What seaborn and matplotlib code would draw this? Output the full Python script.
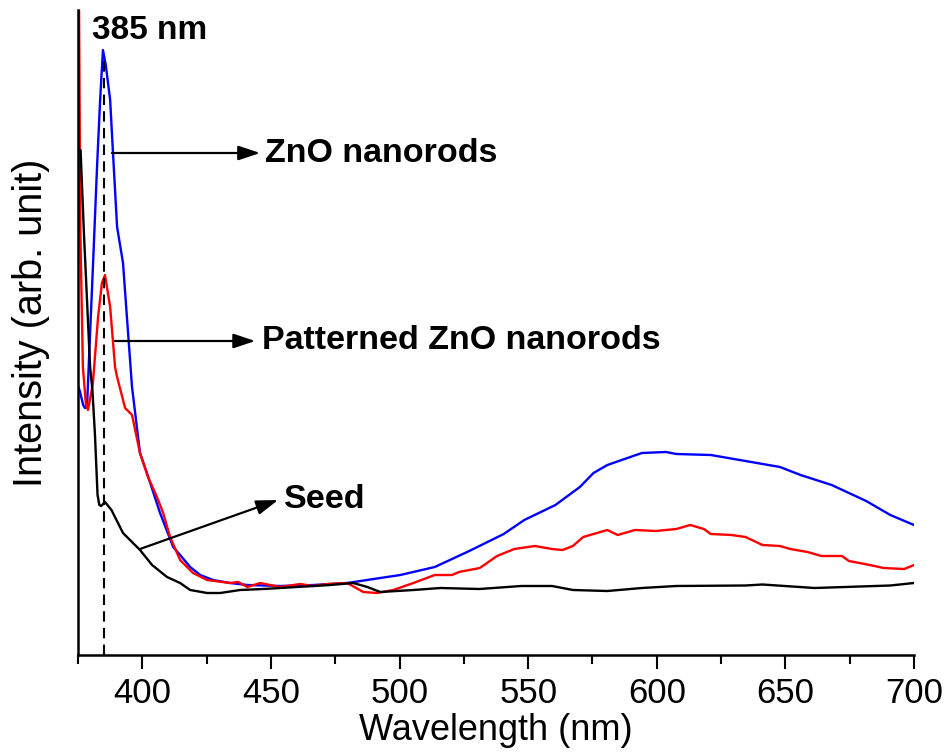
import numpy as np
import pandas as pd
import matplotlib
matplotlib.use('Agg')
import matplotlib.pyplot as plt
from matplotlib.ticker import MultipleLocator
import seaborn as sns

# ZnO nanorods (blue)
blue_nm = [375.2, 375.8, 377.0, 377.7, 378.5, 379.7, 380.8, 382.4, 383.6, 384.7, 385.8, 387.5,
           388.6, 390.2, 392.5, 394.1, 396.0, 399.1, 401.8, 406.9, 412.0, 414.7, 418.6, 422.5,
           427.5, 434.1, 440.8, 453.6, 466.4, 479.7, 492.5, 500.3, 513.7, 527.1, 540.5, 548.5,
           560.6, 570.1, 575.4, 580.8, 594.2, 603.6, 607.6, 621.0, 634.5, 647.9, 655.9, 668.0,
           681.4, 690.8, 700.0]
blue_int = [268, 263, 250, 247, 248, 322, 388, 488, 555, 605, 590, 555,
            502, 428, 392, 335, 268, 202, 182, 142, 108, 100, 88, 80,
            75, 72, 70, 69, 70, 72, 77, 80, 88, 104, 121, 135,
            150, 168, 182, 190, 202, 203, 201, 200, 194, 188, 180, 170,
            154, 140, 130]

# Patterned ZnO nanorods (red)
red_nm = [375.4, 375.9, 376.9, 378.1, 378.9, 380.8, 382.8, 384.3, 385.5, 387.5, 389.4, 390.2,
          392.5, 393.3, 396.0, 399.1, 402.2, 405.7, 408.1, 410.8, 414.7, 419.7, 425.2, 434.1,
          437.3, 440.8, 445.8, 453.6, 461.4, 466.4, 471.9, 479.7, 485.9, 491.3, 497.6, 505.4,
          513.7, 520.4, 523.1, 531.2, 537.9, 544.6, 552.6, 559.3, 563.4, 567.4, 571.4, 580.8,
          584.8, 591.5, 599.6, 607.6, 613.0, 618.3, 621.0, 629.1, 634.5, 641.1, 647.9, 651.9,
          658.6, 664.0, 672.0, 674.7, 682.8, 688.2, 696.2, 700.0]
red_int = [650, 425, 288, 250, 245, 272, 338, 372, 380, 348, 288, 278,
           255, 247, 240, 202, 178, 158, 142, 118, 95, 82, 75, 72,
           73, 68, 72, 68, 71, 69, 71, 72, 63, 62, 65, 72,
           80, 80, 83, 87, 99, 106, 109, 106, 105, 109, 118, 125,
           120, 125, 124, 126, 130, 126, 121, 120, 118, 110, 109, 106,
           103, 99, 99, 94, 90, 87, 86, 90]

# Seed (black)
black_nm = [376.0, 377.3, 378.5, 379.7, 380.6, 381.6, 382.6, 383.3, 384.0, 385.5, 388.0,
            392.5, 399.1, 403.8, 409.6, 414.7, 418.6, 425.2, 430.3, 438.0, 447.0, 460.2, 473.1,
            482.0, 487.5, 492.5, 505.4, 515.9, 531.1, 547.3, 559.3, 567.4, 580.8, 594.2, 607.6,
            634.5, 641.1, 661.3, 690.8, 700.0]
black_int = [505, 422, 355, 288, 265, 220, 160, 150, 149, 153, 145,
             122, 105, 90, 78, 72, 65, 62, 62, 65, 66, 68, 70,
             72, 68, 63, 65, 67, 66, 69, 69, 65, 64, 67, 69,
             69.5, 70.5, 67, 69.5, 72]

samples = ['ZnO nanorods', 'Patterned ZnO nanorods', 'Seed']
colors = {'ZnO nanorods': '#0000ff', 'Patterned ZnO nanorods': '#ff0000', 'Seed': '#000000'}

df = pd.concat([
    pd.DataFrame({'nm': blue_nm, 'I': blue_int, 'sample': samples[0]}),
    pd.DataFrame({'nm': red_nm, 'I': red_int, 'sample': samples[1]}),
    pd.DataFrame({'nm': black_nm, 'I': black_int, 'sample': samples[2]}),
])

sns.set_style("white")
plt.rcParams['font.family'] = ['Liberation Sans', 'DejaVu Sans']
plt.rcParams['text.color'] = 'black'
plt.rcParams['axes.labelcolor'] = 'black'
plt.rcParams['xtick.color'] = 'black'

fig = plt.figure(figsize=(9.48, 7.56), dpi=100)
ax = fig.add_axes([78 / 948, 1 - 655 / 756, 836 / 948, 645 / 756])

sns.lineplot(data=df, x='nm', y='I', hue='sample', palette=colors, estimator=None,
             sort=False, lw=1.7, legend=False, ax=ax)

# peak marker
ax.plot([385, 385], [0, 600], color='black', lw=1.5, dashes=(5, 3))

ax.set_xlim(375, 700)
ax.set_ylim(0, 645)
ax.xaxis.set_major_locator(MultipleLocator(50))
ax.xaxis.set_minor_locator(MultipleLocator(25))
ax.set_yticks([])
ax.tick_params(axis='x', which='major', direction='out', length=10, width=1.5,
               labelsize=25, pad=6, bottom=True, colors='black')
ax.tick_params(axis='x', which='minor', direction='out', length=6.5, width=1.5, bottom=True,
               colors='black')

for s in ['top', 'right']:
    ax.spines[s].set_visible(False)
for s in ['left', 'bottom']:
    ax.spines[s].set_linewidth(1.8)
    ax.spines[s].set_color('black')

ax.set_xlabel('Wavelength (nm)', fontsize=26, labelpad=2, color='black')
ax.set_ylabel('Intensity (arb. unit)', fontsize=28.5, color='black')
ax.yaxis.set_label_coords(-0.034, 0.515)

arrow = dict(arrowstyle='-|>,head_length=0.6,head_width=0.2', color='black', lw=1.6,
             mutation_scale=22, shrinkA=0, shrinkB=0)
ax.annotate('', xy=(445.8, 502), xytext=(388.2, 502), arrowprops=arrow)
ax.annotate('', xy=(443.9, 314), xytext=(389.4, 314), arrowprops=arrow)
ax.annotate('', xy=(452.8, 155), xytext=(399.1, 106), arrowprops=arrow)

ax.text(447.8, 493, 'ZnO nanorods', fontsize=24.5, fontweight='bold', va='baseline')
ax.text(446.6, 306, 'Patterned ZnO nanorods', fontsize=24.5, fontweight='bold', va='baseline')
ax.text(455.2, 147, 'Seed', fontsize=24.5, fontweight='bold', va='baseline')
ax.text(380.4, 616, '385 nm', fontsize=24, fontweight='bold', va='baseline')

fig.savefig('out.png', dpi=100)
